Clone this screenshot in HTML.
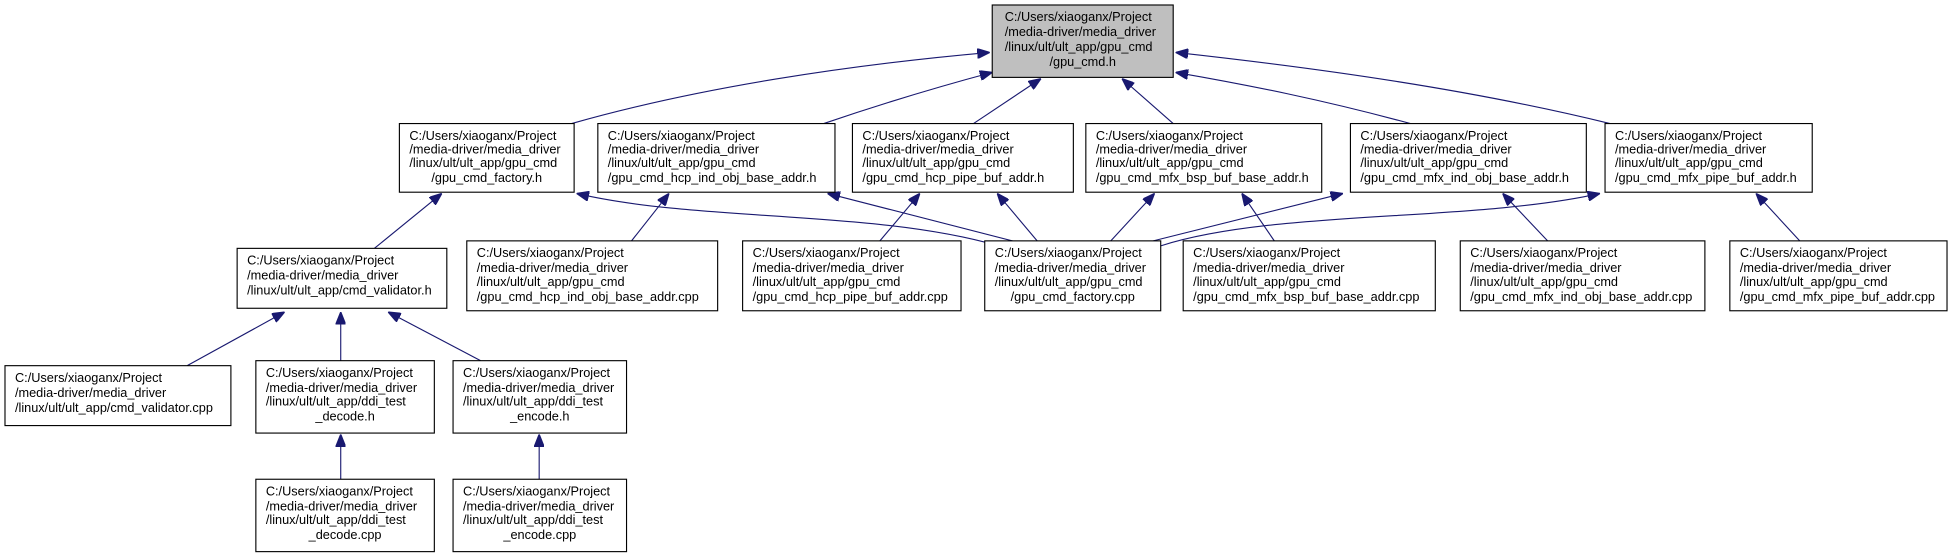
<!DOCTYPE html>
<html><head><meta charset="utf-8"><style>
html,body{margin:0;padding:0;background:#fff;}
svg{display:block;}
text{font-family:"Liberation Sans",Arial,sans-serif;font-size:10.2px;fill:#000;}
.n{fill:#fff;stroke:#000;stroke-width:0.9;}
.e{fill:none;stroke:#191970;stroke-width:0.9;}
</style></head><body>
<svg width="1957" height="556" viewBox="0 0 1568 445.5" preserveAspectRatio="none" xmlns="http://www.w3.org/2000/svg">
<defs><marker id="a" markerUnits="userSpaceOnUse" markerWidth="10" markerHeight="8" refX="10" refY="4" orient="auto"><path d="M0,0 L10,4 L0,8 z" fill="#191970" stroke="#191970"/></marker></defs>
<g class="edges">
<path class="e" marker-end="url(#a)" d="M458,99 C560,70 680,52 793,42"/>
<path class="e" marker-end="url(#a)" d="M660,99 C710,82 750,70 795,58"/>
<path class="e" marker-end="url(#a)" d="M780,99 L834,63"/>
<path class="e" marker-end="url(#a)" d="M940,99 L899,63"/>
<path class="e" marker-end="url(#a)" d="M1130,99 C1060,80 1000,68 942,58"/>
<path class="e" marker-end="url(#a)" d="M1290,99 C1180,72 1060,55 942,42"/>
<path class="e" marker-end="url(#a)" d="M300,199 L354,155"/>
<path class="e" marker-end="url(#a)" d="M506,193 L536,155"/>
<path class="e" marker-end="url(#a)" d="M705,193 L737,155"/>
<path class="e" marker-end="url(#a)" d="M1021,193 L995,155"/>
<path class="e" marker-end="url(#a)" d="M1240,193 L1204,155"/>
<path class="e" marker-end="url(#a)" d="M1442,193 L1407,155"/>
<path class="e" marker-end="url(#a)" d="M800,197 C700,168 560,178 462,155"/>
<path class="e" marker-end="url(#a)" d="M815,194 L663,155"/>
<path class="e" marker-end="url(#a)" d="M831,193 L799,155"/>
<path class="e" marker-end="url(#a)" d="M890,193 L925,155"/>
<path class="e" marker-end="url(#a)" d="M920,194 L1076,155"/>
<path class="e" marker-end="url(#a)" d="M930,197 C1020,168 1180,178 1282,155"/>
<path class="e" marker-end="url(#a)" d="M150,293 L228,250"/>
<path class="e" marker-end="url(#a)" d="M273,289 L273,250"/>
<path class="e" marker-end="url(#a)" d="M385,289 L311,250"/>
<path class="e" marker-end="url(#a)" d="M273,384 L273,348"/>
<path class="e" marker-end="url(#a)" d="M432,384 L432,348"/>
</g>
<g id="nodes"></g>
<!-- Top -->
<rect x="795" y="4" width="145" height="58" style="fill:#bfbfbf;stroke:#000;stroke-width:0.9"/>
<text x="805" y="17">C:/Users/xiaoganx/Project</text><text x="805" y="29">/media-driver/media_driver</text><text x="805" y="41">/linux/ult/ult_app/gpu_cmd</text><text x="867.5" y="53" text-anchor="middle">/gpu_cmd.h</text>
<!-- Row2 -->
<rect class="n" x="320" y="99" width="140" height="55"/>
<text x="328" y="112">C:/Users/xiaoganx/Project</text><text x="328" y="123">/media-driver/media_driver</text><text x="328" y="134">/linux/ult/ult_app/gpu_cmd</text><text x="390" y="146" text-anchor="middle">/gpu_cmd_factory.h</text>
<rect class="n" x="479" y="99" width="190" height="55"/>
<text x="487" y="112">C:/Users/xiaoganx/Project</text><text x="487" y="123">/media-driver/media_driver</text><text x="487" y="134">/linux/ult/ult_app/gpu_cmd</text><text x="487" y="146">/gpu_cmd_hcp_ind_obj_base_addr.h</text>
<rect class="n" x="683" y="99" width="177" height="55"/>
<text x="691" y="112">C:/Users/xiaoganx/Project</text><text x="691" y="123">/media-driver/media_driver</text><text x="691" y="134">/linux/ult/ult_app/gpu_cmd</text><text x="691" y="146">/gpu_cmd_hcp_pipe_buf_addr.h</text>
<rect class="n" x="870" y="99" width="189" height="55"/>
<text x="878" y="112">C:/Users/xiaoganx/Project</text><text x="878" y="123">/media-driver/media_driver</text><text x="878" y="134">/linux/ult/ult_app/gpu_cmd</text><text x="878" y="146">/gpu_cmd_mfx_bsp_buf_base_addr.h</text>
<rect class="n" x="1082" y="99" width="189" height="55"/>
<text x="1090" y="112">C:/Users/xiaoganx/Project</text><text x="1090" y="123">/media-driver/media_driver</text><text x="1090" y="134">/linux/ult/ult_app/gpu_cmd</text><text x="1090" y="146">/gpu_cmd_mfx_ind_obj_base_addr.h</text>
<rect class="n" x="1286" y="99" width="166" height="55"/>
<text x="1294" y="112">C:/Users/xiaoganx/Project</text><text x="1294" y="123">/media-driver/media_driver</text><text x="1294" y="134">/linux/ult/ult_app/gpu_cmd</text><text x="1294" y="146">/gpu_cmd_mfx_pipe_buf_addr.h</text>
<!-- Row3 -->
<rect class="n" x="190" y="199" width="168" height="48"/>
<text x="198" y="212">C:/Users/xiaoganx/Project</text><text x="198" y="224">/media-driver/media_driver</text><text x="198" y="236">/linux/ult/ult_app/cmd_validator.h</text>
<rect class="n" x="374" y="193" width="201" height="56"/>
<text x="382" y="206">C:/Users/xiaoganx/Project</text><text x="382" y="218">/media-driver/media_driver</text><text x="382" y="229">/linux/ult/ult_app/gpu_cmd</text><text x="382" y="241">/gpu_cmd_hcp_ind_obj_base_addr.cpp</text>
<rect class="n" x="595" y="193" width="175" height="56"/>
<text x="603" y="206">C:/Users/xiaoganx/Project</text><text x="603" y="218">/media-driver/media_driver</text><text x="603" y="229">/linux/ult/ult_app/gpu_cmd</text><text x="603" y="241">/gpu_cmd_hcp_pipe_buf_addr.cpp</text>
<rect class="n" x="789" y="193" width="141" height="56"/>
<text x="797" y="206">C:/Users/xiaoganx/Project</text><text x="797" y="218">/media-driver/media_driver</text><text x="797" y="229">/linux/ult/ult_app/gpu_cmd</text><text x="859.5" y="241" text-anchor="middle">/gpu_cmd_factory.cpp</text>
<rect class="n" x="948" y="193" width="202" height="56"/>
<text x="956" y="206">C:/Users/xiaoganx/Project</text><text x="956" y="218">/media-driver/media_driver</text><text x="956" y="229">/linux/ult/ult_app/gpu_cmd</text><text x="956" y="241">/gpu_cmd_mfx_bsp_buf_base_addr.cpp</text>
<rect class="n" x="1170" y="193" width="196" height="56"/>
<text x="1178" y="206">C:/Users/xiaoganx/Project</text><text x="1178" y="218">/media-driver/media_driver</text><text x="1178" y="229">/linux/ult/ult_app/gpu_cmd</text><text x="1178" y="241">/gpu_cmd_mfx_ind_obj_base_addr.cpp</text>
<rect class="n" x="1386" y="193" width="174" height="56"/>
<text x="1394" y="206">C:/Users/xiaoganx/Project</text><text x="1394" y="218">/media-driver/media_driver</text><text x="1394" y="229">/linux/ult/ult_app/gpu_cmd</text><text x="1394" y="241">/gpu_cmd_mfx_pipe_buf_addr.cpp</text>
<!-- Row4 -->
<rect class="n" x="4" y="293" width="181" height="48"/>
<text x="12" y="306">C:/Users/xiaoganx/Project</text><text x="12" y="318">/media-driver/media_driver</text><text x="12" y="330">/linux/ult/ult_app/cmd_validator.cpp</text>
<rect class="n" x="205" y="289" width="143" height="58"/>
<text x="213" y="302">C:/Users/xiaoganx/Project</text><text x="213" y="314">/media-driver/media_driver</text><text x="213" y="325">/linux/ult/ult_app/ddi_test</text><text x="276.5" y="337" text-anchor="middle">_decode.h</text>
<rect class="n" x="363" y="289" width="139" height="58"/>
<text x="371" y="302">C:/Users/xiaoganx/Project</text><text x="371" y="314">/media-driver/media_driver</text><text x="371" y="325">/linux/ult/ult_app/ddi_test</text><text x="432.5" y="337" text-anchor="middle">_encode.h</text>
<!-- Row5 -->
<rect class="n" x="205" y="384" width="143" height="58"/>
<text x="213" y="397">C:/Users/xiaoganx/Project</text><text x="213" y="409">/media-driver/media_driver</text><text x="213" y="420">/linux/ult/ult_app/ddi_test</text><text x="276.5" y="432" text-anchor="middle">_decode.cpp</text>
<rect class="n" x="363" y="384" width="139" height="58"/>
<text x="371" y="397">C:/Users/xiaoganx/Project</text><text x="371" y="409">/media-driver/media_driver</text><text x="371" y="420">/linux/ult/ult_app/ddi_test</text><text x="432.5" y="432" text-anchor="middle">_encode.cpp</text>
</svg>
</body></html>
